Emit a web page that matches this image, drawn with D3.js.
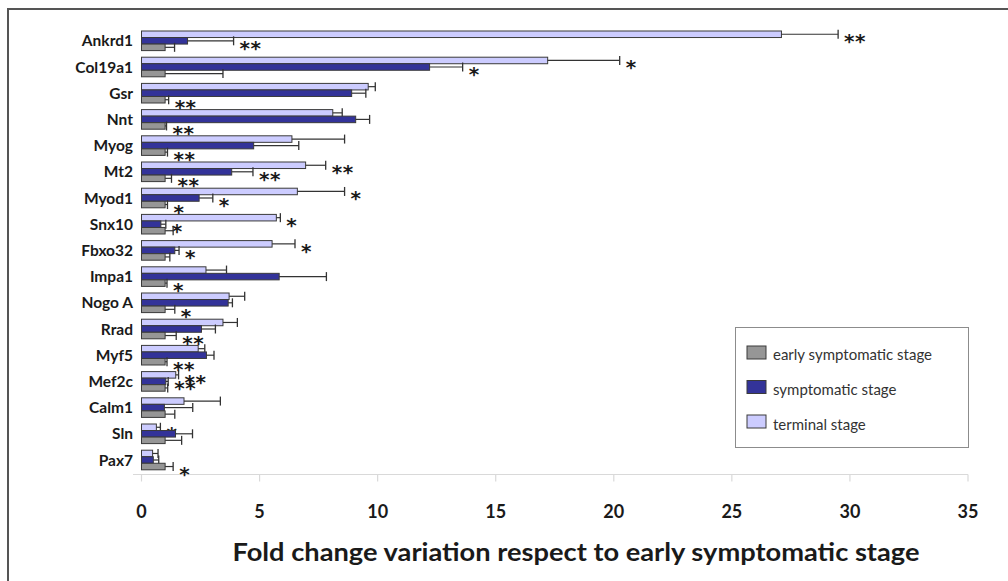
<!DOCTYPE html>
<html>
<head>
<meta charset="utf-8">
<script src="https://cdn.jsdelivr.net/npm/d3@7"></script>
<style>
  body { margin: 0; background: #fff; }
  svg { display: block; }
</style>
</head>
<body>
<div id="chart"></div>
<script>
// gene names, top to bottom
var categories = ["Ankrd1", "Col19a1", "Gsr", "Nnt", "Myog", "Mt2", "Myod1", "Snx10", "Fbxo32",
    "Impa1", "Nogo A", "Rrad", "Myf5", "Mef2c", "Calm1", "Sln", "Pax7"];

// fold change values and error (half-bar length) per stage
var earlyValues = [1, 1, 1, 1, 1, 1, 1, 1, 1, 1, 1, 1, 1, 1, 1, 1, 1];
var earlyErrors = [0.4, 2.45, 0.15, 0.06, 0.1, 0.27, 0.1, 0.34, 0.2, 0.08, 0.41, 0.47, 0.08, 0.11, 0.41, 0.7, 0.34];
var earlyStars = ["", "", "**", "**", "**", "**", "*", "", "", "*", "*", "**", "**", "", "", "", "*"];

var symptomaticValues = [1.95, 12.2, 8.9, 9.07, 4.75, 3.82, 2.44, 0.82, 1.41, 5.83, 3.67, 2.54, 2.75, 1.03, 0.97, 1.44, 0.5];
var symptomaticErrors = [1.95, 1.4, 0.6, 0.59, 1.91, 0.9, 0.58, 0.21, 0.18, 2.0, 0.18, 0.59, 0.32, 0.1, 1.2, 0.72, 0.23];
var symptomaticStars = ["**", "*", "", "", "", "**", "*", "*", "*", "", "", "", "", "**", "", "", ""];

var terminalValues = [27.1, 17.2, 9.6, 8.1, 6.37, 6.95, 6.6, 5.71, 5.53, 2.73, 3.71, 3.45, 2.4, 1.45, 1.8, 0.63, 0.47];
var terminalErrors = [2.4, 3.05, 0.3, 0.4, 2.23, 0.85, 2.0, 0.17, 0.97, 0.87, 0.66, 0.61, 0.28, 0.12, 1.54, 0.17, 0.23];
var terminalStars = ["**", "*", "", "", "", "**", "*", "*", "*", "", "", "", "", "**", "", "*", ""];

var stageNames = ["early symptomatic stage", "symptomatic stage", "terminal stage"];
var xTicks = [0, 5, 10, 15, 20, 25, 30, 35];

var width = 1008;
var height = 581;

// stage colours, in legend order
var colors = ["#969696", "#333399", "#ccccff"];

var svg = d3.select("#chart")
    .append("svg")
    .attr("width", width)
    .attr("height", height);

/* outer frame, runs off the right and bottom edges */
svg.append("path")
    .attr("d", "M8,581V9H1008")
    .attr("fill", "none")
    .attr("stroke", "#555")
    .attr("stroke-width", 2);

var x = d3.scaleLinear().domain([0, 35]).range([141.5, 968]);

var y = d3.scaleBand()
    .domain(categories)
    .range([31, 469.8])
    .paddingInner(0.252)
    .paddingOuter(0);

// bars inside a group: terminal on top, then symptomatic, then early
var series = [
    { key: "terminal", values: terminalValues, errors: terminalErrors, stars: terminalStars, color: colors[2] },
    { key: "symptomatic", values: symptomaticValues, errors: symptomaticErrors, stars: symptomaticStars, color: colors[1] },
    { key: "early", values: earlyValues, errors: earlyErrors, stars: earlyStars, color: colors[0] }
];

var ySub = d3.scaleBand()
    .domain(series.map(s => s.key))
    .range([0, y.bandwidth()]);

/* x axis: light line with ticks pointing down */
var axisY = 474.5;
svg.append("line")
    .attr("x1", 133).attr("x2", x(35))
    .attr("y1", axisY).attr("y2", axisY)
    .attr("stroke", "#d9d9d9")
    .attr("stroke-width", 1.2);

svg.selectAll(".tick")
    .data(xTicks)
    .enter().append("line")
    .attr("class", "tick")
    .attr("x1", d => x(d)).attr("x2", d => x(d))
    .attr("y1", axisY).attr("y2", axisY + 7)
    .attr("stroke", "#d9d9d9")
    .attr("stroke-width", 1.2);

svg.selectAll(".ticklabel")
    .data(xTicks)
    .enter().append("text")
    .attr("class", "ticklabel")
    .attr("x", d => x(d))
    .attr("y", 517.5)
    .attr("text-anchor", "middle")
    .attr("font-family", "Lato")
    .attr("font-weight", "bold")
    .attr("font-size", "18px")
    .attr("fill", "#1a1a1a")
    .text(d => d);

svg.append("text")
    .attr("x", 576)
    .attr("y", 561)
    .attr("text-anchor", "middle")
    .attr("font-family", "Lato")
    .attr("font-weight", "bold")
    .attr("font-size", "24px")
    .attr("fill", "#1a1a1a")
    .attr("textLength", 687)
    .attr("lengthAdjust", "spacingAndGlyphs")
    .text("Fold change variation respect to early symptomatic stage");

/* category labels */
svg.selectAll(".cat")
    .data(categories)
    .enter().append("text")
    .attr("class", "cat")
    .attr("x", 133)
    .attr("y", d => y(d) + y.bandwidth() / 2)
    .attr("dy", "0.36em")
    .attr("text-anchor", "end")
    .attr("font-family", "Lato")
    .attr("font-weight", "bold")
    .attr("font-size", "15.5px")
    .attr("fill", "#1a1a1a")
    .text(d => d);

/* bars, error bars and significance stars */
series.forEach(function(s) {
    var g = svg.append("g").attr("class", "series-" + s.key);
    var rows = categories.map((c, i) => ({ cat: c, v: s.values[i], e: s.errors[i], star: s.stars[i] }));
    var bh = ySub.bandwidth();

    g.selectAll("rect")
        .data(rows)
        .enter().append("rect")
        .attr("x", x(0))
        .attr("y", d => y(d.cat) + ySub(s.key))
        .attr("width", d => x(d.v) - x(0))
        .attr("height", bh)
        .attr("fill", s.color)
        .attr("stroke", "#3a3a3a")
        .attr("stroke-width", 1);

    g.selectAll(".err")
        .data(rows)
        .enter().append("line")
        .attr("class", "err")
        .attr("x1", d => x(d.v))
        .attr("x2", d => x(d.v + d.e))
        .attr("y1", d => y(d.cat) + ySub(s.key) + bh / 2)
        .attr("y2", d => y(d.cat) + ySub(s.key) + bh / 2)
        .attr("stroke", "#333")
        .attr("stroke-width", 1.2);

    g.selectAll(".cap")
        .data(rows)
        .enter().append("line")
        .attr("class", "cap")
        .attr("x1", d => x(d.v + d.e))
        .attr("x2", d => x(d.v + d.e))
        .attr("y1", d => y(d.cat) + ySub(s.key) + bh / 2 - 4.5)
        .attr("y2", d => y(d.cat) + ySub(s.key) + bh / 2 + 4.5)
        .attr("stroke", "#333")
        .attr("stroke-width", 1.3);

    g.selectAll(".star")
        .data(rows.filter(d => d.star))
        .enter().append("text")
        .attr("class", "star")
        .attr("x", d => x(d.v + d.e) + 6)
        .attr("y", d => y(d.cat) + ySub(s.key) + bh / 2 + 2 + 12)
        .attr("font-family", "DejaVu Sans")
        .attr("font-weight", "bold")
        .attr("font-size", "20px")
        .attr("letter-spacing", "0.5px")
        .attr("fill", "#1a1a1a")
        .text(d => d.star);
});

/* legend box */
var legend = svg.append("g").attr("class", "legend");
legend.append("rect")
    .attr("x", 735.5).attr("y", 327.5)
    .attr("width", 233).attr("height", 120)
    .attr("fill", "#fff")
    .attr("stroke", "#8c8c8c")
    .attr("stroke-width", 1);

legend.selectAll(".swatch")
    .data(stageNames)
    .enter().append("rect")
    .attr("class", "swatch")
    .attr("x", 747)
    .attr("y", (d, i) => 346 + i * 34.5)
    .attr("width", 19)
    .attr("height", 13)
    .attr("fill", (d, i) => colors[i])
    .attr("stroke", "#3a3a3a")
    .attr("stroke-width", 1);

legend.selectAll(".ltext")
    .data(stageNames)
    .enter().append("text")
    .attr("class", "ltext")
    .attr("x", 773)
    .attr("y", (d, i) => 360 + i * 35)
    .attr("font-family", "Lato")
    .attr("font-size", "15px")
    .attr("fill", "#333")
    .text(d => d);
</script>
</body>
</html>
